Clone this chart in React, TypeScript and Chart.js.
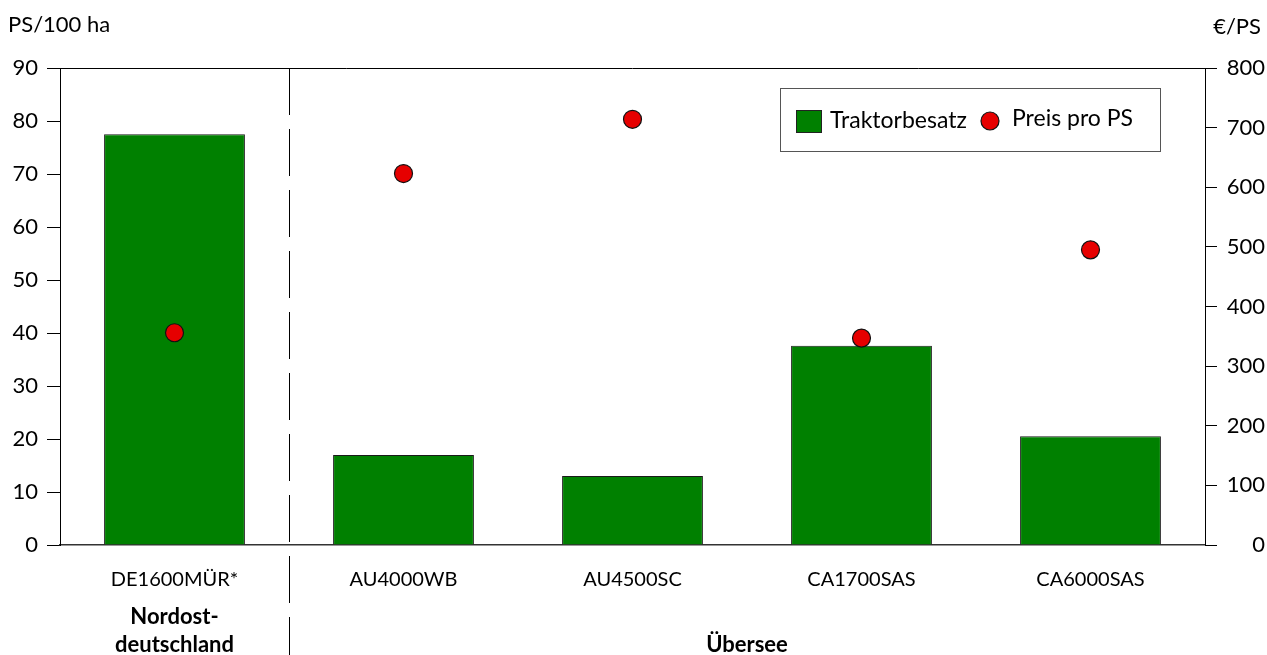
import React, { useEffect, useRef } from "react";
import { Chart, registerables } from "chart.js";

Chart.register(...registerables);

const categories = ["DE1600MÜR*", "AU4000WB", "AU4500SC", "CA1700SAS", "CA6000SAS"];
const traktorbesatz = [77.5, 17.0, 13.0, 37.6, 20.5];
const preisProPS = [356, 623, 714, 347, 495];
const leftTitle = "PS/100 ha";
const rightTitle = "€/PS";
const groupLabels = [
  { lines: ["Nordost-", "deutschland"], from: 0, to: 0 },
  { lines: ["Übersee"], from: 1, to: 4 },
];
const legendLabels = ["Traktorbesatz", "Preis pro PS"];

const FONT = "Lato, 'Open Sans', sans-serif";
const GREEN = "#008000";
const RED = "#e60000";

const decorPlugin = {
  id: "decor",
  afterDraw(chart: any) {
    const ctx = chart.ctx;
    const ca = chart.chartArea;
    const x = chart.scales.x;
    ctx.save();
    // top border
    ctx.strokeStyle = "#000";
    ctx.lineWidth = 1;
    ctx.beginPath();
    ctx.moveTo(ca.left, ca.top + 0.5);
    ctx.lineTo(ca.right, ca.top + 0.5);
    ctx.stroke();
    // dashed separator between group 1 and 2
    const sepX = Math.round((x.getPixelForValue(0) + x.getPixelForValue(1)) / 2) + 0.5;
    ctx.setLineDash([47, 14]);
    ctx.beginPath();
    ctx.moveTo(sepX, ca.top);
    ctx.lineTo(sepX, chart.height);
    ctx.stroke();
    ctx.setLineDash([]);
    // axis titles
    ctx.fillStyle = "#000";
    ctx.font = `22px ${FONT}`;
    ctx.textBaseline = "middle";
    ctx.textAlign = "left";
    ctx.fillText(leftTitle, 8, 25);
    ctx.textAlign = "right";
    ctx.fillText(rightTitle, 1261, 27);
    // group labels
    ctx.font = `bold 22px ${FONT}`;
    ctx.textAlign = "center";
    groupLabels.forEach((g) => {
      const cx = (x.getPixelForValue(g.from) + x.getPixelForValue(g.to)) / 2;
      const n = g.lines.length;
      g.lines.forEach((t, i) => {
        const y = 645 - (n - 1 - i) * 28;
        ctx.fillText(t, cx, y);
      });
    });
    // legend box
    const lx = 780, ly = 88, lw = 380, lh = 63;
    ctx.fillStyle = "#fff";
    ctx.fillRect(lx, ly, lw, lh);
    ctx.strokeStyle = "#555";
    ctx.lineWidth = 1;
    ctx.strokeRect(lx + 0.5, ly + 0.5, lw, lh);
    ctx.fillStyle = GREEN;
    ctx.fillRect(796, 110, 26, 23);
    ctx.strokeStyle = "#222";
    ctx.strokeRect(796.5, 110.5, 25, 22);
    ctx.fillStyle = "#000";
    ctx.font = `23px ${FONT}`;
    ctx.textAlign = "left";
    ctx.fillText(legendLabels[0], 830, 121);
    ctx.beginPath();
    ctx.arc(990, 121, 9, 0, Math.PI * 2);
    ctx.fillStyle = RED;
    ctx.fill();
    ctx.lineWidth = 1.2;
    ctx.strokeStyle = "#111";
    ctx.stroke();
    ctx.fillStyle = "#000";
    ctx.fillText(legendLabels[1], 1012, 119);
    ctx.restore();
  },
};

export default function App() {
  const ref = useRef<HTMLCanvasElement>(null);
  useEffect(() => {
    document.body.style.margin = "0";
    const chart = new Chart(ref.current as HTMLCanvasElement, {
      type: "bar",
      data: {
        labels: categories,
        datasets: [
          {
            type: "line",
            label: legendLabels[1],
            data: preisProPS,
            yAxisID: "y1",
            showLine: false,
            pointRadius: 9,
            pointBackgroundColor: RED,
            pointBorderColor: "#111",
            pointBorderWidth: 1.2,
            order: 0,
          } as any,
          {
            type: "bar",
            label: legendLabels[0],
            data: traktorbesatz,
            yAxisID: "y",
            backgroundColor: GREEN,
            borderColor: "#1a1a1a",
            borderWidth: 1,
            categoryPercentage: 1,
            barPercentage: 0.615,
            order: 1,
          },
        ],
      },
      options: {
        responsive: false,
        animation: false,
        layout: { padding: { top: 68, right: 2, left: 0, bottom: 0 } },
        plugins: { legend: { display: false }, tooltip: { enabled: false } },
        scales: {
          x: {
            grid: { display: false, drawTicks: false },
            border: { display: true, color: "#333", width: 1.5 },
            ticks: { color: "#000", font: { family: FONT, size: 20 }, padding: 23 },
            afterFit(s: any) {
              s.height = 110;
            },
          },
          y: {
            position: "left",
            min: 0,
            max: 90,
            ticks: { stepSize: 10, color: "#000", font: { family: FONT, size: 22 }, padding: 9 },
            grid: { drawOnChartArea: false, drawTicks: true, tickLength: 13, color: "#000" },
            border: { display: true, color: "#000" },
            afterFit(s: any) {
              s.width = 60;
            },
          },
          y1: {
            position: "right",
            min: 0,
            max: 800,
            ticks: {
              stepSize: 100,
              color: "#000",
              font: { family: FONT, size: 22 },
              padding: 9,
              crossAlign: "far",
            },
            grid: { drawOnChartArea: false, drawTicks: true, tickLength: 12, color: "#000" },
            border: { display: true, color: "#000" },
            afterFit(s: any) {
              s.width = 60;
            },
          },
        },
      },
      plugins: [decorPlugin],
    });
    return () => chart.destroy();
  }, []);
  return (
    <div style={{ position: "absolute", left: 0, top: 0, width: 1267, height: 655 }}>
      <canvas ref={ref} width={1267} height={655} />
    </div>
  );
}
